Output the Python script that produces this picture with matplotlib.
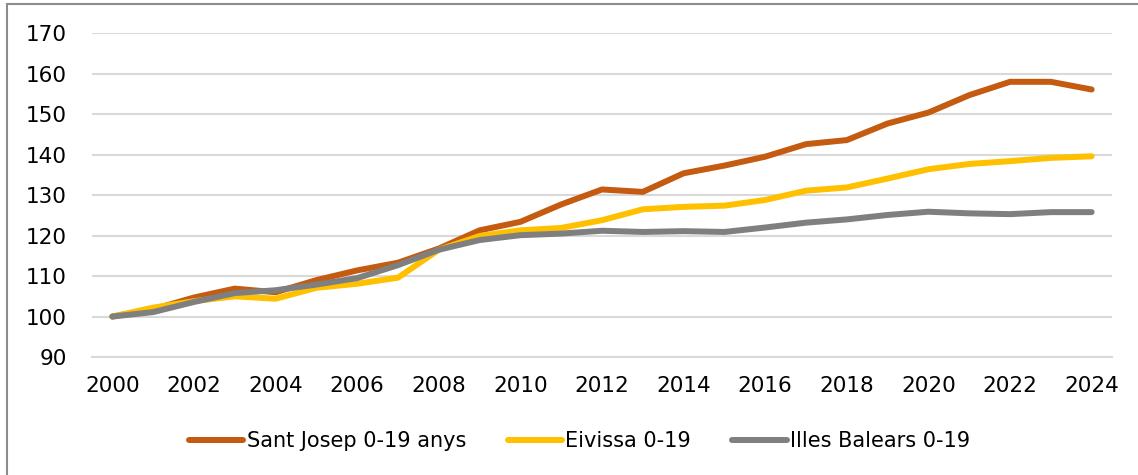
import numpy as np
import matplotlib
matplotlib.use("Agg")
import matplotlib.pyplot as plt
import matplotlib.patches as patches

plt.rcParams["font.family"] = "DejaVu Sans"

years = list(range(2000, 2025))
sant_josep = [100.0, 101.8, 104.7, 106.9, 106.0, 109.0, 111.4, 113.3, 116.8, 121.3,
              123.4, 127.7, 131.4, 130.8, 135.4, 137.3, 139.5, 142.6, 143.6, 147.7,
              150.4, 154.7, 158.0, 158.0, 156.1]
eivissa = [100.0, 102.2, 103.8, 105.0, 104.4, 107.1, 108.1, 109.6, 116.5, 119.9,
           121.3, 121.9, 123.8, 126.5, 127.1, 127.4, 128.8, 131.1, 131.9, 134.1,
           136.4, 137.7, 138.4, 139.2, 139.6]
balears = [100.0, 101.1, 103.6, 105.8, 106.5, 107.9, 109.5, 112.7, 116.5, 118.9,
           120.1, 120.5, 121.2, 120.9, 121.1, 120.9, 122.0, 123.2, 124.0, 125.1,
           125.9, 125.5, 125.3, 125.8, 125.8]
labels = ["Sant Josep 0-19 anys", "Eivissa 0-19", "Illes Balears 0-19"]
colors = ["#C55A11", "#FFC000", "#7F7F7F"]

fig = plt.figure(figsize=(11.38, 4.75), dpi=100)
ax = fig.add_axes([0.0808, 0.2484, 0.8964, 0.6816])

# outer frame (cut off at right/bottom)
fig.patches.append(patches.Rectangle((7/1138, -0.1), 1.2, 1 - 4/475 + 0.1,
                                     transform=fig.transFigure, fill=False,
                                     edgecolor="#8c8c8c", linewidth=1.5))

x = np.arange(len(years))
for ser, lab, col in zip([sant_josep, eivissa, balears], labels, colors):
    ax.plot(x, ser, color=col, linewidth=4.3, label=lab,
            solid_capstyle="round", solid_joinstyle="round", clip_on=False)

ax.set_xlim(-0.5, len(years) - 0.5)
ax.set_ylim(90, 170)
ax.set_yticks(np.arange(90, 171, 10))
ax.set_xticks(x[::2])
ax.set_xticklabels([str(y) for y in years[::2]])
ax.yaxis.grid(True, color="#D9D9D9", linewidth=1.5)
ax.set_axisbelow(True)
for s in ["top", "right", "left"]:
    ax.spines[s].set_visible(False)
ax.spines["bottom"].set_color("#D9D9D9")
ax.spines["bottom"].set_linewidth(1.5)
ax.tick_params(axis="both", length=0, labelsize=15.5, colors="black")
ax.tick_params(axis="y", pad=18)
ax.tick_params(axis="x", pad=14)

ax.legend(loc="upper center", bbox_to_anchor=(0.478, -0.17), ncol=3, frameon=False,
          fontsize=15, handlelength=2.6, handletextpad=0.15, columnspacing=2.0)

fig.savefig("out.png", dpi=100)
